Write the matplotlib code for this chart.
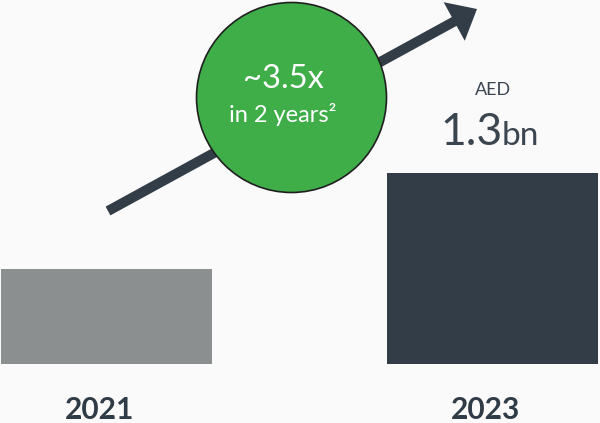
import matplotlib.pyplot as plt
import matplotlib.transforms as mtransforms
from matplotlib.patches import Circle, FancyArrow

plt.rcParams['font.family'] = ['Lato', 'DejaVu Sans']

years = ['2021', '2023']
revenue_bn = [0.65, 1.3]          # AED bn
bar_colors = ['#8b8f8f', '#323d47']
growth_label = '~3.5x'
growth_note = 'in 2 years²'

text_dark = '#2f3c48'
bg = '#fafafa'

fig = plt.figure(figsize=(6, 4.23), dpi=100, facecolor=bg)

# bars
ax = fig.add_axes([0, 59 / 423, 1, 364 / 423])
ax.set_facecolor(bg)
x = list(range(len(years)))
ax.bar(x, revenue_bn, width=0.549, color=bar_colors)
ax.set_xlim(-0.276, 1.2785)
ax.set_ylim(0, revenue_bn[1] * 364 / 191)
ax.set_xticks(x, years)
ax.tick_params(axis='x', length=0, pad=23, labelsize=21.5, labelcolor=text_dark)
shift = mtransforms.ScaledTranslation(-7 / 100, 0, fig.dpi_scale_trans)
for lbl in ax.get_xticklabels():
    lbl.set_fontweight('bold')
    lbl.set_transform(lbl.get_transform() + shift)
ax.set_yticks([])
for s in ax.spines.values():
    s.set_visible(False)

# value label over the 2023 bar
ax.annotate('AED', xy=(1, revenue_bn[1]), xytext=(0, 60), textcoords='offset points',
            ha='center', va='center', fontsize=13, color='#3a4550')
ax.annotate(f'{revenue_bn[1]:.1f}', xy=(1, revenue_bn[1]), xytext=(7.5, 20),
            textcoords='offset points', ha='right', va='baseline',
            fontsize=32, color='#3a4550')
ax.annotate('bn', xy=(1, revenue_bn[1]), xytext=(6.5, 20),
            textcoords='offset points', ha='left', va='baseline',
            fontsize=24, color='#3a4550')

# growth arrow and bubble, in pixel coordinates
ov = fig.add_axes([0, 0, 1, 1], zorder=5)
ov.patch.set_alpha(0)
ov.set_xlim(0, 600)
ov.set_ylim(423, 0)
ov.axis('off')

ov.add_patch(FancyArrow(108, 211, 369, -202, width=10, head_width=44,
                        head_length=26, length_includes_head=True,
                        color='#323d47', lw=0))
ov.add_patch(Circle((291.5, 97.5), 95, facecolor='#3fae49',
                    edgecolor='#1f1f1f', lw=1.2, zorder=3))
ov.text(283, 88, growth_label, ha='center', va='baseline', fontsize=23.5,
        color='white', zorder=4)
ov.text(283, 122, growth_note, ha='center', va='baseline', fontsize=17,
        color='white', zorder=4)

fig.savefig('out.png', dpi=100, facecolor=bg)
